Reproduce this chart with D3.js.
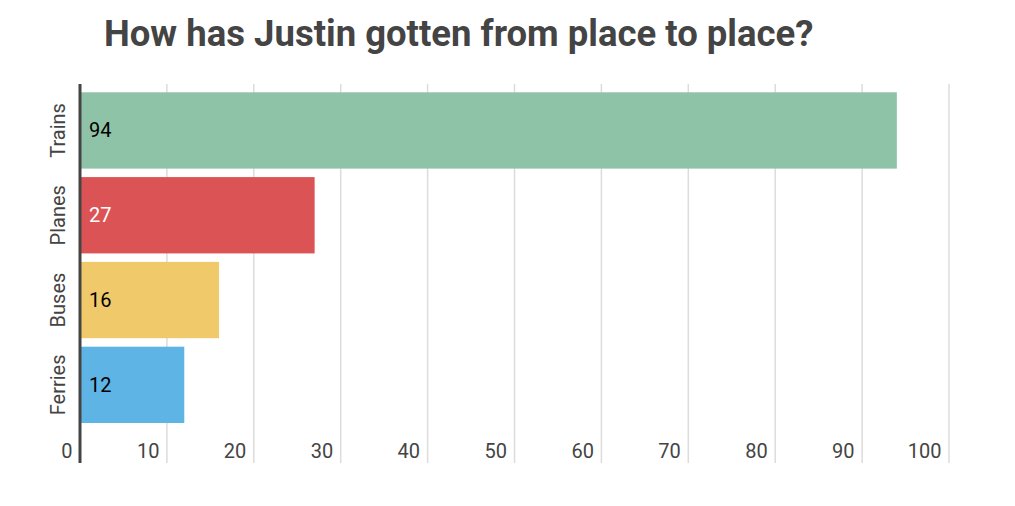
<!DOCTYPE html>
<html>
<head>
<meta charset="utf-8">
<script src="https://cdn.jsdelivr.net/npm/d3@7"></script>
<style>
  body { margin: 0; background: #fff; }
  svg { display: block; font-family: Roboto, "Noto Sans", sans-serif; }
</style>
</head>
<body>
<svg id="chart" width="1015" height="506"></svg>
<script>
const categories = ["Trains", "Planes", "Buses", "Ferries"];
const values = [94, 27, 16, 12];
const colors = ["#8FC3A8", "#DC5356", "#F0CA6A", "#5EB5E5"];
const labelColors = ["#000", "#fff", "#000", "#000"];
const ticks = [0, 10, 20, 30, 40, 50, 60, 70, 80, 90, 100];
const title = "How has Justin gotten from place to place?";

const svg = d3.select("#chart");
const x = d3.scaleLinear().domain([0, 100]).range([80, 949]);
const y = d3.scaleBand().domain(categories).range([83.8, 431.5]).paddingInner(0.1).paddingOuter(0.1);
const gridTop = 84, gridBottom = 463;

svg.append("text")
  .attr("x", 104).attr("y", 46)
  .attr("font-size", 36.5).attr("font-weight", 700).attr("fill", "#444")
  .text(title);

// gridlines
svg.append("g").selectAll("line").data(ticks.filter(t => t > 0)).join("line")
  .attr("x1", d => x(d)).attr("x2", d => x(d))
  .attr("y1", gridTop).attr("y2", gridBottom)
  .attr("stroke", "#dcdcdc").attr("stroke-width", 1.5);

// bars
const data = categories.map((c, i) => ({ c, v: values[i], col: colors[i], lc: labelColors[i] }));
svg.append("g").selectAll("rect").data(data).join("rect")
  .attr("x", x(0)).attr("y", d => y(d.c))
  .attr("width", d => x(d.v) - x(0)).attr("height", y.bandwidth())
  .attr("fill", d => d.col);

svg.append("g").selectAll("text").data(data).join("text")
  .attr("x", x(0) + 9).attr("y", d => y(d.c) + y.bandwidth() / 2)
  .attr("dy", "0.35em")
  .attr("font-size", 20).attr("fill", d => d.lc)
  .text(d => d.v);

// x tick labels
const xAxis = d3.axisBottom(x).tickValues(ticks).tickSize(0).tickFormat(d3.format("d"));
const gx = svg.append("g").attr("transform", `translate(0,${gridBottom})`).call(xAxis);
gx.select(".domain").remove();
gx.selectAll("text")
  .attr("font-size", 20).attr("fill", "#444").attr("font-family", "Roboto, sans-serif")
  .attr("text-anchor", "end").attr("x", -8).attr("y", -5).attr("dy", 0);

// y labels
const yAxis = d3.axisLeft(y).tickSize(0);
const gy = svg.append("g").attr("transform", `translate(${x(0)},0)`).call(yAxis);
gy.select(".domain").remove();
gy.selectAll("text")
  .attr("font-size", 20).attr("fill", "#444").attr("font-family", "Roboto, sans-serif")
  .attr("transform", "rotate(-90)")
  .attr("text-anchor", "middle").attr("x", 0).attr("y", -15).attr("dy", 0);

// axis line
svg.append("line")
  .attr("x1", x(0)).attr("x2", x(0)).attr("y1", gridTop).attr("y2", gridBottom)
  .attr("stroke", "#444").attr("stroke-width", 3);
</script>
</body>
</html>
